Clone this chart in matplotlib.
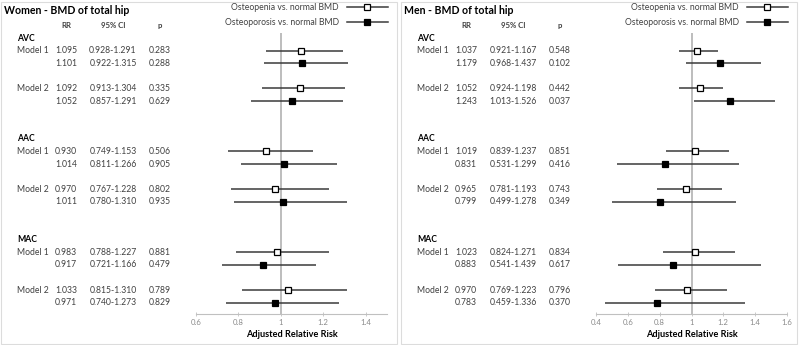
import matplotlib
matplotlib.use('Agg')
from matplotlib import pyplot as plt
from matplotlib import transforms
from matplotlib.lines import Line2D
from matplotlib.patches import Rectangle

plt.rcParams['font.family'] = ['Lato', 'DejaVu Sans']

groups = ['AVC', 'AAC', 'MAC']
models = ['Model 1', 'Model 2']

# women, osteopenia vs normal
w_penia_rr = [1.095, 1.092, 0.930, 0.970, 0.983, 1.033]
w_penia_lo = [0.928, 0.913, 0.749, 0.767, 0.788, 0.815]
w_penia_hi = [1.291, 1.304, 1.153, 1.228, 1.227, 1.310]
w_penia_p = ['0.283', '0.335', '0.506', '0.802', '0.881', '0.789']
# women, osteoporosis vs normal
w_por_rr = [1.101, 1.052, 1.014, 1.011, 0.917, 0.971]
w_por_lo = [0.922, 0.857, 0.811, 0.780, 0.721, 0.740]
w_por_hi = [1.315, 1.291, 1.266, 1.310, 1.166, 1.273]
w_por_p = ['0.288', '0.629', '0.905', '0.935', '0.479', '0.829']

# men, osteopenia vs normal
m_penia_rr = [1.037, 1.052, 1.019, 0.965, 1.023, 0.970]
m_penia_lo = [0.921, 0.924, 0.839, 0.781, 0.824, 0.769]
m_penia_hi = [1.167, 1.198, 1.237, 1.193, 1.271, 1.223]
m_penia_p = ['0.548', '0.442', '0.851', '0.743', '0.834', '0.796']
# men, osteoporosis vs normal
m_por_rr = [1.179, 1.243, 0.831, 0.799, 0.883, 0.783]
m_por_lo = [0.968, 1.013, 0.531, 0.499, 0.541, 0.459]
m_por_hi = [1.437, 1.526, 1.299, 1.278, 1.439, 1.336]
m_por_p = ['0.102', '0.037', '0.416', '0.349', '0.617', '0.370']

w_ticks = [0.6, 0.8, 1.0, 1.2, 1.4]
m_ticks = [0.4, 0.6, 0.8, 1.0, 1.2, 1.4, 1.6]

W, H = 800, 345
fig = plt.figure(figsize=(8, 3.45), dpi=100)

lc = '#3a3a3a'
fs = 6.2


def panel(x0, title, pen, por, xlim, ticks):
    # x0: left edge of panel in px
    fig.add_artist(Rectangle(((x0 + 1) / W, 1 / H), 396 / W, 342 / H,
                             transform=fig.transFigure, fill=False,
                             edgecolor='#dcdcdc', lw=0.8))
    ax = fig.add_axes([(x0 + 196) / W, 1 - 314 / H, 191 / W, 281 / H])
    ax.set_xlim(*xlim)
    ax.set_ylim(21.9, -0.4)
    ax.axvline(1, color='#bdbdbd', lw=1.4, zorder=0)

    tr = transforms.blended_transform_factory(fig.transFigure, ax.transData)
    fx = lambda px: (x0 + px) / W

    fig.text(fx(4), 1 - 10 / H, title, fontsize=7.6, fontweight='bold',
             va='center', ha='left')
    for lab, px in [('RR', 66), ('95% CI', 113), ('p', 160)]:
        ax.text(fx(px), -1.0, lab, transform=tr, fontsize=5.6,
                fontweight='bold', ha='center', va='center', color='#404040',
                clip_on=False)

    k = 0
    for g, grp in enumerate(groups):
        yh = 8 * g
        ax.text(fx(17), yh, grp, transform=tr, fontsize=fs, fontweight='bold',
                ha='left', va='center', clip_on=False)
        for m, mod in enumerate(models):
            ya = yh + 1 + 3 * m
            ax.text(fx(17), ya, mod, transform=tr, fontsize=fs,
                    ha='left', va='center', color='#404040', clip_on=False)
            for s, (ser, face) in enumerate([(pen, 'white'), (por, 'black')]):
                rr, lo, hi, p = ser[0][k], ser[1][k], ser[2][k], ser[3][k]
                y = ya + s
                ax.text(fx(66), y, '%.3f' % rr, transform=tr, fontsize=fs,
                        ha='center', va='center', color='#404040', clip_on=False)
                ax.text(fx(113), y, '%.3f-%.3f' % (lo, hi), transform=tr,
                        fontsize=fs, ha='center', va='center', color='#404040',
                        clip_on=False)
                ax.text(fx(160), y, p, transform=tr, fontsize=fs,
                        ha='center', va='center', color='#404040', clip_on=False)
                ax.plot([lo, hi], [y, y], color=lc, lw=1.1, solid_capstyle='butt')
                ax.plot([rr], [y], 's', ms=4.6, mfc=face, mec='black', mew=0.9)
            k += 1

    for sp in ['top', 'left', 'right']:
        ax.spines[sp].set_visible(False)
    ax.spines['bottom'].set_color('#c0c0c0')
    ax.spines['bottom'].set_linewidth(0.8)
    ax.set_yticks([])
    ax.set_xticks(ticks)
    ax.set_xticklabels(['%g' % t for t in ticks])
    ax.tick_params(axis='x', direction='inout', length=3, width=0.6,
                   color='#c0c0c0', labelsize=5.6, labelcolor='#8a8a8a', pad=2)
    ax.set_xlabel('Adjusted Relative Risk', fontsize=6.6, fontweight='bold',
                  labelpad=3)

    handles = [Line2D([], [], color=lc, lw=1.1, marker='s', ms=4.6, mfc='white',
                      mec='black', mew=0.9),
               Line2D([], [], color=lc, lw=1.1, marker='s', ms=4.6, mfc='black',
                      mec='black', mew=0.9)]
    fig.legend(handles, ['Osteopenia vs. normal BMD', 'Osteoporosis vs. normal BMD'],
               loc='upper right', bbox_to_anchor=((x0 + 388) / W, 1 - 3.5 / H),
               frameon=False, markerfirst=False, fontsize=fs,
               handlelength=4.8, handletextpad=0.9, labelspacing=0.65,
               borderpad=0, borderaxespad=0, labelcolor='#404040')
    return ax


panel(0, 'Women - BMD of total hip',
      (w_penia_rr, w_penia_lo, w_penia_hi, w_penia_p),
      (w_por_rr, w_por_lo, w_por_hi, w_por_p), (0.6, 1.5), w_ticks)
panel(400, 'Men - BMD of total hip',
      (m_penia_rr, m_penia_lo, m_penia_hi, m_penia_p),
      (m_por_rr, m_por_lo, m_por_hi, m_por_p), (0.4, 1.6), m_ticks)

fig.savefig('out.png', dpi=100)
